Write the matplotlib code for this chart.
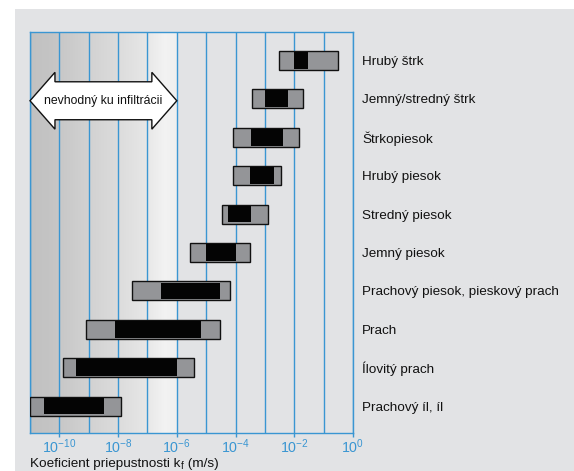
import numpy as np
import matplotlib
matplotlib.use("Agg")
import matplotlib.pyplot as plt
from matplotlib.patches import Rectangle, Polygon

plt.rcParams['font.family'] = ['Liberation Sans', 'DejaVu Sans']

# Soil types, top to bottom
soils = ["Hrubý štrk", "Jemný/stredný štrk", "Štrkopiesok", "Hrubý piesok",
         "Stredný piesok", "Jemný piesok", "Prachový piesok, pieskový prach",
         "Prach", "Ílovitý prach", "Prachový íl, íl"]

# Full permeability range k_f (m/s), grey bars
range_lo = [3e-3, 3.5e-4, 8e-5, 8e-5, 3.4e-5, 2.8e-6, 3e-8, 8e-10, 1.3e-10, 1e-11]
range_hi = [3e-1, 2e-2, 1.4e-2, 3.5e-3, 1.25e-3, 3e-4, 6.3e-5, 2.9e-5, 3.8e-6, 1.26e-8]
# Typical permeability range k_f (m/s), black bars
typ_lo = [1e-2, 1e-3, 3.3e-4, 3e-4, 5.4e-5, 1e-5, 2.9e-7, 8e-9, 3.6e-10, 3e-11]
typ_hi = [3e-2, 6e-3, 4e-3, 2e-3, 3.3e-4, 1e-4, 2.9e-5, 6.6e-6, 1e-6, 3.3e-9]

tick_exps = [-10, -8, -6, -4, -2, 0]
unsuitable_lo, unsuitable_hi = 1e-11, 1e-6

W, H = 574, 471
BLUE = "#3a96d2"
BG = "#e2e3e5"
GREY = "#949598"

fig = plt.figure(figsize=(W / 100, H / 100), dpi=100, facecolor="white")
fig.patches.append(Rectangle((15 / W, 0), (W - 15) / W, (H - 9) / H,
                             transform=fig.transFigure, facecolor=BG,
                             edgecolor="none", zorder=-10))

ax = fig.add_axes([30 / W, (H - 433) / H, (353 - 30) / W, (433 - 32) / H])
ax.set_facecolor(BG)
ax.set_xscale("log")
ax.set_xlim(1e-11, 1e0)
ax.set_ylim(9 + 0.70, -0.74)

# Shaded background over the unsuitable range
edges = np.linspace(-11, -6, 151)
prof_x = [-11, -10.2, -10, -9, -8, -7, -6.4, -6.0]
prof_v = [0.755, 0.77, 0.78, 0.82, 0.86, 0.905, 0.95, 0.935]
for a, b in zip(edges[:-1], edges[1:]):
    v = np.interp((a + b) / 2, prof_x, prof_v)
    ax.axvspan(10 ** a, 10 ** b, color=(v, v, v), lw=0, zorder=0)

# Decade grid lines
for e in range(-11, 1):
    ax.axvline(10.0 ** e, color=BLUE, lw=1.0, zorder=1)

# Bars
h = 19 / 38.45
for i in range(len(soils)):
    ax.barh(i, range_hi[i] - range_lo[i], left=range_lo[i], height=h,
            color=GREY, edgecolor="#111111", linewidth=1.0, zorder=3)
    ax.barh(i, typ_hi[i] - typ_lo[i], left=typ_lo[i], height=h - 0.06,
            color="#040404", edgecolor="none", zorder=4)

# Double-headed arrow marking the unsuitable range
yc = 1.05
bh, hh = 0.494, 0.74
head = 10 ** 0.85
xl, xr = unsuitable_lo, unsuitable_hi
verts = [(xl, yc), (xl * head, yc - hh), (xl * head, yc - bh), (xr / head, yc - bh),
         (xr / head, yc - hh), (xr, yc), (xr / head, yc + hh), (xr / head, yc + bh),
         (xl * head, yc + bh), (xl * head, yc + hh)]
ax.add_patch(Polygon(verts, closed=True, facecolor="white", edgecolor="#111111",
                     lw=1.0, zorder=5, clip_on=False))
ax.text(np.sqrt(xl * xr), yc, "nevhodný ku infiltrácii", ha="center", va="center",
        fontsize=8.8, color="#111111", zorder=6)

# Axes styling
for s in ax.spines.values():
    s.set_color(BLUE)
    s.set_linewidth(1.0)
ax.set_xticks([10.0 ** e for e in tick_exps])
ax.set_xticklabels([r"$\mathregular{10^{%d}}$" % e for e in tick_exps])
ax.xaxis.set_minor_locator(matplotlib.ticker.NullLocator())
ax.tick_params(axis="x", colors=BLUE, length=3, width=1.0, pad=0, labelsize=10.3)

ax.set_yticks(range(len(soils)))
ax.set_yticklabels(soils, fontsize=9.7)
ax.yaxis.tick_right()
ax.tick_params(axis="y", length=0, pad=6.5, colors="#111111")

# Axis title with subscript f, built from three text pieces
t1 = fig.text(30 / W, 4 / H, "Koeficient priepustnosti k", fontsize=9.7,
              color="#111111", ha="left", va="baseline")
t2 = fig.add_artist(plt.Annotation("f", xy=(1, 0), xycoords=t1, xytext=(0.3, -1),
                                   textcoords="offset points", fontsize=7,
                                   color="#111111", ha="left", va="bottom"))
t3 = fig.add_artist(plt.Annotation(" (m/s)", xy=(1, 0), xycoords=(t2, t1),
                                   xytext=(0, 0), textcoords="offset points",
                                   fontsize=9.7, color="#111111", ha="left",
                                   va="bottom"))

fig.savefig("out.png", dpi=100, facecolor="white")
